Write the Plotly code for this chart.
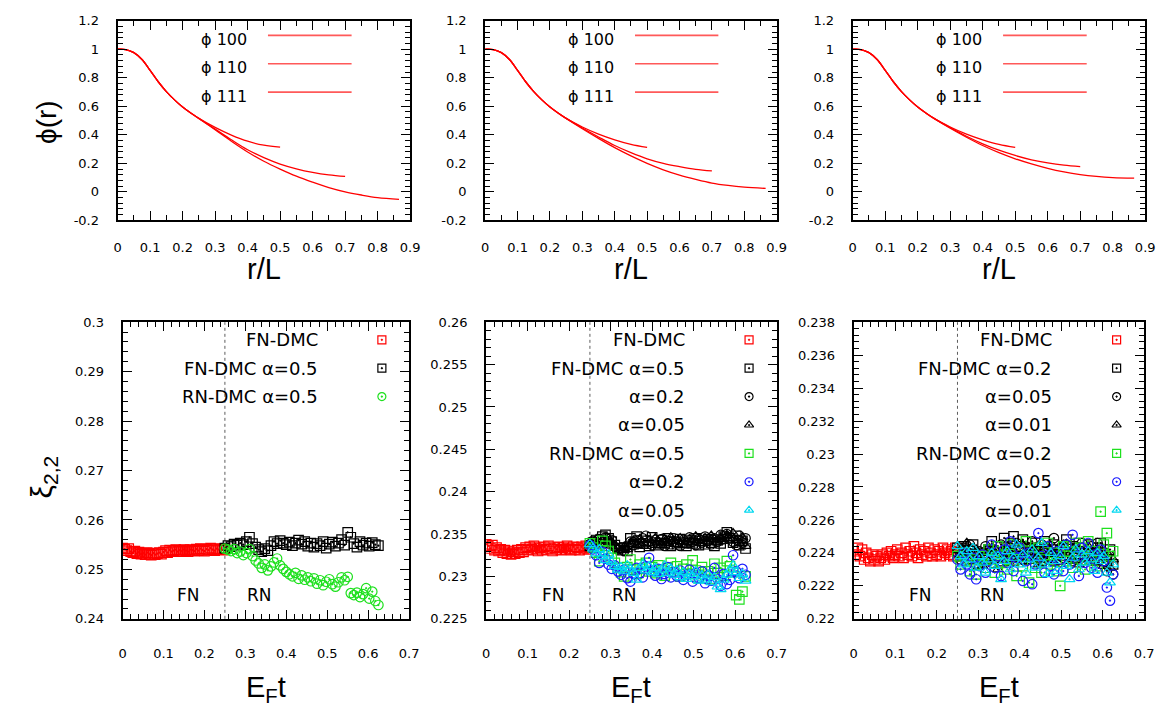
import plotly.graph_objects as go

# ---------------- data: top row, phi(r) ----------------
R100 = [0, 0.025, 0.05, 0.075, 0.1, 0.125, 0.15, 0.175, 0.2, 0.225, 0.25, 0.3, 0.35, 0.4, 0.45, 0.5]
R110 = [0, 0.025, 0.05, 0.075, 0.1, 0.125, 0.15, 0.175, 0.2, 0.225, 0.25, 0.3, 0.35, 0.4, 0.45, 0.5,
        0.55, 0.6, 0.65, 0.7]
R111 = [0, 0.025, 0.05, 0.075, 0.1, 0.125, 0.15, 0.175, 0.2, 0.225, 0.25, 0.3, 0.35, 0.4, 0.45, 0.5,
        0.55, 0.6, 0.65, 0.7, 0.75, 0.8, 0.866]

P1_PHI100 = [1.0, 0.998, 0.976, 0.928, 0.852, 0.772, 0.703, 0.645, 0.595, 0.553, 0.515, 0.452, 0.398, 0.355, 0.327, 0.313]
P1_PHI110 = [1.0, 0.998, 0.976, 0.928, 0.852, 0.772, 0.703, 0.645, 0.595, 0.553, 0.515, 0.44, 0.365, 0.295, 0.24, 0.195,
             0.162, 0.137, 0.119, 0.108]
P1_PHI111 = [1.0, 0.998, 0.976, 0.928, 0.852, 0.772, 0.703, 0.645, 0.595, 0.553, 0.515, 0.435, 0.355, 0.28, 0.215, 0.16,
             0.11, 0.068, 0.03, 0.0, -0.022, -0.04, -0.052]

P2_PHI100 = [1.0, 0.998, 0.976, 0.928, 0.852, 0.772, 0.703, 0.645, 0.595, 0.553, 0.515, 0.455, 0.405, 0.365, 0.333, 0.312]
P2_PHI110 = [1.0, 0.998, 0.976, 0.928, 0.852, 0.772, 0.703, 0.645, 0.595, 0.553, 0.515, 0.448, 0.385, 0.325, 0.275, 0.232,
             0.2, 0.177, 0.158, 0.147]
P2_PHI111 = [1.0, 0.998, 0.976, 0.928, 0.852, 0.772, 0.703, 0.645, 0.595, 0.553, 0.515, 0.443, 0.375, 0.31, 0.252, 0.2,
             0.155, 0.118, 0.088, 0.062, 0.045, 0.033, 0.024]

P3_PHI100 = [1.0, 0.998, 0.976, 0.928, 0.852, 0.772, 0.703, 0.645, 0.595, 0.553, 0.515, 0.455, 0.405, 0.365, 0.333, 0.312]
P3_PHI110 = [1.0, 0.998, 0.976, 0.928, 0.852, 0.772, 0.703, 0.645, 0.595, 0.553, 0.515, 0.45, 0.39, 0.337, 0.292, 0.255,
             0.225, 0.203, 0.187, 0.177]
P3_PHI111 = [1.0, 0.998, 0.976, 0.928, 0.852, 0.772, 0.703, 0.645, 0.595, 0.553, 0.515, 0.446, 0.383, 0.325, 0.275, 0.232,
             0.196, 0.165, 0.14, 0.121, 0.108, 0.1, 0.096]

PHI_LABELS = ["\u03d5 100", "\u03d5 110", "\u03d5 111"]

# ---------------- data: bottom row, xi_{2,2}(E_F t) ----------------
T_FN = [0, 0.005, 0.01, 0.015, 0.02, 0.025, 0.03, 0.035, 0.04, 0.045,
        0.05, 0.055, 0.06, 0.065, 0.07, 0.075, 0.08, 0.085, 0.09, 0.095,
        0.1, 0.105, 0.11, 0.115, 0.12, 0.125, 0.13, 0.135, 0.14, 0.145,
        0.15, 0.155, 0.16, 0.165, 0.17, 0.175, 0.18, 0.185, 0.19, 0.195,
        0.2, 0.205, 0.21, 0.215, 0.22, 0.225, 0.23, 0.235, 0.24, 0.245, 0.25]
T_RN = [0.25, 0.2575, 0.265, 0.2725, 0.28, 0.2875, 0.295, 0.3025, 0.31, 0.3175,
        0.325, 0.3325, 0.34, 0.3475, 0.355, 0.3625, 0.37, 0.3775, 0.385, 0.3925,
        0.4, 0.4075, 0.415, 0.4225, 0.43, 0.4375, 0.445, 0.4525, 0.46, 0.4675,
        0.475, 0.4825, 0.49, 0.4975, 0.505, 0.5125, 0.52, 0.5275, 0.535, 0.5425,
        0.55, 0.5575, 0.565, 0.5725, 0.58, 0.5875, 0.595, 0.6025, 0.61, 0.6175, 0.625]

# panel 1
P1_FN = [0.2543, 0.2541, 0.2538, 0.2542, 0.2536, 0.2534, 0.2537, 0.2532, 0.2535, 0.2531,
         0.2533, 0.2530, 0.2534, 0.2531, 0.2529, 0.2533, 0.2530, 0.2532, 0.2534, 0.2531,
         0.2535, 0.2538, 0.2534, 0.2539, 0.2536, 0.2538, 0.2540, 0.2536, 0.2539, 0.2537,
         0.2540, 0.2538, 0.2536, 0.2540, 0.2539, 0.2537, 0.2541, 0.2538, 0.2542, 0.2539,
         0.2537, 0.2541, 0.2539, 0.2543, 0.2540, 0.2538, 0.2542, 0.2540, 0.2541, 0.2539, 0.2542]
P1_FN05 = [0.2543, 0.2548, 0.2546, 0.2551, 0.2549, 0.2553, 0.2550, 0.2556, 0.2565, 0.2552,
           0.2545, 0.2540, 0.2536, 0.2542, 0.2538, 0.2548, 0.2556, 0.2552, 0.2558, 0.2553,
           0.2550, 0.2555, 0.2548, 0.2553, 0.2559, 0.2551, 0.2556, 0.2547, 0.2553, 0.2545,
           0.2552, 0.2548, 0.2556, 0.2543, 0.2551, 0.2555, 0.2547, 0.2553, 0.2560, 0.2549,
           0.2575, 0.2565, 0.2552, 0.2545, 0.2556, 0.2549, 0.2553, 0.2547, 0.2554, 0.2550, 0.2548]
P1_RN05 = [0.2542, 0.2540, 0.2537, 0.2541, 0.2533, 0.2536, 0.2529, 0.2533, 0.2541, 0.2527,
           0.2518, 0.2512, 0.2503, 0.2510, 0.2498, 0.2506, 0.2514, 0.2522, 0.2508, 0.2501,
           0.2495, 0.2490, 0.2486, 0.2493, 0.2481, 0.2488, 0.2479, 0.2484, 0.2476, 0.2482,
           0.2471, 0.2478, 0.2468, 0.2475, 0.2480, 0.2470, 0.2465, 0.2474, 0.2484, 0.2478,
           0.2485, 0.2452, 0.2448, 0.2453, 0.2444, 0.2450, 0.2462, 0.2441, 0.2455, 0.2436, 0.2428]

# panel 2
P2_FN = [0.2338, 0.2336, 0.2333, 0.2337, 0.2331, 0.2334, 0.2330, 0.2332, 0.2328, 0.2331,
         0.2327, 0.2330, 0.2326, 0.2329, 0.2327, 0.2331, 0.2328, 0.2332, 0.2329, 0.2334,
         0.2331, 0.2335, 0.2332, 0.2336, 0.2333, 0.2330, 0.2334, 0.2331, 0.2335, 0.2332,
         0.2336, 0.2333, 0.2330, 0.2334, 0.2332, 0.2335, 0.2331, 0.2334, 0.2332, 0.2336,
         0.2333, 0.2331, 0.2335, 0.2332, 0.2334, 0.2331, 0.2335, 0.2333, 0.2336, 0.2332, 0.2334]
P2_FN05 = [0.2336, 0.2340, 0.2343, 0.2338, 0.2347, 0.2349, 0.2345, 0.2341, 0.2337, 0.2333,
           0.2331, 0.2334, 0.2330, 0.2345, 0.2338, 0.2347, 0.2335, 0.2339, 0.2342, 0.2336,
           0.2346, 0.2340, 0.2337, 0.2343, 0.2339, 0.2345, 0.2336, 0.2341, 0.2338, 0.2344,
           0.2340, 0.2336, 0.2343, 0.2339, 0.2345, 0.2337, 0.2342, 0.2338, 0.2344, 0.2340,
           0.2336, 0.2343, 0.2339, 0.2347, 0.2352, 0.2345, 0.2340, 0.2348, 0.2337, 0.2342, 0.2333]
P2_FN02 = [0.2338, 0.2342, 0.2336, 0.2344, 0.2340, 0.2346, 0.2339, 0.2343, 0.2335, 0.2332,
           0.2334, 0.2330, 0.2336, 0.2341, 0.2337, 0.2343, 0.2339, 0.2345, 0.2348, 0.2341,
           0.2337, 0.2343, 0.2339, 0.2344, 0.2336, 0.2342, 0.2338, 0.2345, 0.2340, 0.2336,
           0.2343, 0.2339, 0.2346, 0.2341, 0.2337, 0.2344, 0.2340, 0.2347, 0.2342, 0.2338,
           0.2345, 0.2341, 0.2349, 0.2344, 0.2350, 0.2346, 0.2341, 0.2337, 0.2348, 0.2340, 0.2345]
P2_FN005 = [0.2337, 0.2340, 0.2344, 0.2339, 0.2343, 0.2338, 0.2345, 0.2340, 0.2336, 0.2333,
            0.2331, 0.2335, 0.2332, 0.2338, 0.2342, 0.2337, 0.2344, 0.2340, 0.2336, 0.2343,
            0.2339, 0.2345, 0.2341, 0.2337, 0.2344, 0.2340, 0.2346, 0.2342, 0.2338, 0.2345,
            0.2341, 0.2337, 0.2344, 0.2340, 0.2347, 0.2343, 0.2339, 0.2345, 0.2341, 0.2348,
            0.2344, 0.2340, 0.2346, 0.2342, 0.2349, 0.2345, 0.2351, 0.2343, 0.2339, 0.2346, 0.2336]
P2_RN05 = [0.2339, 0.2334, 0.2328, 0.2318, 0.2342, 0.2336, 0.2330, 0.2322, 0.2316, 0.2310,
           0.2305, 0.2300, 0.2311, 0.2320, 0.2308, 0.2303, 0.2314, 0.2309, 0.2316, 0.2306,
           0.2311, 0.2304, 0.2313, 0.2307, 0.2301, 0.2310, 0.2316, 0.2305, 0.2312, 0.2300,
           0.2309, 0.2314, 0.2303, 0.2319, 0.2307, 0.2298, 0.2311, 0.2302, 0.2306, 0.2297,
           0.2315, 0.2304, 0.2310, 0.2301, 0.2318, 0.2312, 0.2305, 0.2278, 0.2273, 0.2282, 0.2300]
P2_RN02 = [0.2337, 0.2332, 0.2325, 0.2316, 0.2329, 0.2321, 0.2314, 0.2309, 0.2313, 0.2306,
           0.2302, 0.2308, 0.2298, 0.2294, 0.2303, 0.2310, 0.2304, 0.2299, 0.2312, 0.2322,
           0.2307, 0.2301, 0.2309, 0.2297, 0.2303, 0.2311, 0.2299, 0.2305, 0.2300, 0.2307,
           0.2296, 0.2302, 0.2308, 0.2294, 0.2304, 0.2298, 0.2306, 0.2292, 0.2301, 0.2295,
           0.2310, 0.2297, 0.2289, 0.2303, 0.2291, 0.2296, 0.2325, 0.2306, 0.2298, 0.2309, 0.2302]
P2_RN005 = [0.2338, 0.2333, 0.2327, 0.2332, 0.2324, 0.2319, 0.2326, 0.2317, 0.2312, 0.2308,
            0.2311, 0.2306, 0.2313, 0.2309, 0.2304, 0.2296, 0.2310, 0.2314, 0.2307, 0.2312,
            0.2305, 0.2310, 0.2303, 0.2308, 0.2313, 0.2304, 0.2309, 0.2302, 0.2307, 0.2299,
            0.2305, 0.2297, 0.2303, 0.2300, 0.2306, 0.2295, 0.2301, 0.2296, 0.2302, 0.2293,
            0.2299, 0.2288, 0.2285, 0.2296, 0.2302, 0.2308, 0.2313, 0.2305, 0.2298, 0.2303, 0.2295]

# panel 3
P3_FN = [0.2241, 0.2239, 0.2243, 0.2238, 0.2242, 0.2236, 0.2240, 0.2237, 0.2235, 0.2239,
         0.2236, 0.2238, 0.2235, 0.2237, 0.2239, 0.2236, 0.2240, 0.2238, 0.2241, 0.2237,
         0.2239, 0.2242, 0.2238, 0.2240, 0.2237, 0.2243, 0.2239, 0.2241, 0.2238, 0.2244,
         0.2240, 0.2237, 0.2242, 0.2239, 0.2241, 0.2238, 0.2243, 0.2240, 0.2238, 0.2242,
         0.2239, 0.2241, 0.2238, 0.2243, 0.2240, 0.2242, 0.2239, 0.2241, 0.2238, 0.2243, 0.2240]
P3_FN02 = [0.2243, 0.2238, 0.2244, 0.2236, 0.2241, 0.2245, 0.2239, 0.2234, 0.2240, 0.2236,
           0.2242, 0.2247, 0.2238, 0.2244, 0.2235, 0.2249, 0.2241, 0.2246, 0.2250, 0.2238,
           0.2244, 0.2248, 0.2236, 0.2243, 0.2239, 0.2246, 0.2241, 0.2235, 0.2247, 0.2242,
           0.2238, 0.2245, 0.2240, 0.2236, 0.2243, 0.2248, 0.2239, 0.2244, 0.2237, 0.2246,
           0.2241, 0.2238, 0.2245, 0.2240, 0.2236, 0.2243, 0.2246, 0.2239, 0.2235, 0.2242, 0.2233]
P3_FN005 = [0.2240, 0.2236, 0.2243, 0.2238, 0.2245, 0.2239, 0.2233, 0.2241, 0.2237, 0.2244,
            0.2238, 0.2234, 0.2242, 0.2237, 0.2245, 0.2240, 0.2235, 0.2243, 0.2238, 0.2246,
            0.2241, 0.2236, 0.2244, 0.2239, 0.2247, 0.2242, 0.2237, 0.2245, 0.2240, 0.2236,
            0.2244, 0.2249, 0.2239, 0.2243, 0.2237, 0.2245, 0.2240, 0.2235, 0.2243, 0.2238,
            0.2246, 0.2241, 0.2236, 0.2244, 0.2239, 0.2246, 0.2240, 0.2235, 0.2229, 0.2238, 0.2227]
P3_FN001 = [0.2244, 0.2239, 0.2242, 0.2246, 0.2240, 0.2235, 0.2242, 0.2237, 0.2232, 0.2240,
            0.2235, 0.2243, 0.2238, 0.2230, 0.2241, 0.2236, 0.2244, 0.2239, 0.2234, 0.2242,
            0.2237, 0.2245, 0.2240, 0.2235, 0.2243, 0.2238, 0.2233, 0.2241, 0.2236, 0.2244,
            0.2239, 0.2234, 0.2242, 0.2237, 0.2245, 0.2240, 0.2235, 0.2243, 0.2238, 0.2233,
            0.2241, 0.2236, 0.2244, 0.2239, 0.2234, 0.2242, 0.2237, 0.2232, 0.2240, 0.2231, 0.2236]
P3_RN02 = [0.2238, 0.2233, 0.2240, 0.2235, 0.2229, 0.2236, 0.2227, 0.2233, 0.2238, 0.2231,
           0.2242, 0.2236, 0.2228, 0.2244, 0.2234, 0.2239, 0.2230, 0.2245, 0.2237, 0.2226,
           0.2242, 0.2232, 0.2247, 0.2222, 0.2238, 0.2231, 0.2243, 0.2228, 0.2236, 0.2246,
           0.2233, 0.2240, 0.2229, 0.2220, 0.2244, 0.2235, 0.2241, 0.2231, 0.2246, 0.2238,
           0.2243, 0.2230, 0.2247, 0.2236, 0.2241, 0.2232, 0.2265, 0.2245, 0.2252, 0.2238, 0.2241]
P3_RN005 = [0.2236, 0.2230, 0.2240, 0.2233, 0.2227, 0.2237, 0.2224, 0.2232, 0.2239, 0.2228,
            0.2235, 0.2245, 0.2231, 0.2238, 0.2226, 0.2242, 0.2234, 0.2247, 0.2229, 0.2237,
            0.2243, 0.2223, 0.2235, 0.2240, 0.2221, 0.2233, 0.2252, 0.2238, 0.2228, 0.2244,
            0.2232, 0.2227, 0.2241, 0.2236, 0.2229, 0.2245, 0.2233, 0.2251, 0.2238, 0.2226,
            0.2243, 0.2234, 0.2246, 0.2231, 0.2239, 0.2228, 0.2242, 0.2235, 0.2219, 0.2211, 0.2227]
P3_RN001 = [0.2244, 0.2238, 0.2233, 0.2241, 0.2236, 0.2243, 0.2231, 0.2238, 0.2234, 0.2228,
            0.2236, 0.2240, 0.2232, 0.2238, 0.2224, 0.2235, 0.2241, 0.2230, 0.2237, 0.2245,
            0.2233, 0.2239, 0.2228, 0.2236, 0.2242, 0.2231, 0.2237, 0.2246, 0.2233, 0.2227,
            0.2240, 0.2235, 0.2229, 0.2238, 0.2244, 0.2232, 0.2224, 0.2237, 0.2242, 0.2230,
            0.2239, 0.2234, 0.2241, 0.2236, 0.2229, 0.2240, 0.2235, 0.2238, 0.2228, 0.2222, 0.2233]

# tick labels
R_TICKS = [0, 0.1, 0.2, 0.3, 0.4, 0.5, 0.6, 0.7, 0.8, 0.9]
R_TICKTEXT = ["0", "0.1", "0.2", "0.3", "0.4", "0.5", "0.6", "0.7", "0.8", "0.9"]
PHI_TICKS = [-0.2, 0, 0.2, 0.4, 0.6, 0.8, 1.0, 1.2]
PHI_TICKTEXT = ["-0.2", "0", "0.2", "0.4", "0.6", "0.8", "1", "1.2"]
T_TICKS = [0, 0.1, 0.2, 0.3, 0.4, 0.5, 0.6, 0.7]
T_TICKTEXT = ["0", "0.1", "0.2", "0.3", "0.4", "0.5", "0.6", "0.7"]
XI1_TICKS = [0.24, 0.25, 0.26, 0.27, 0.28, 0.29, 0.30]
XI1_TICKTEXT = ["0.24", "0.25", "0.26", "0.27", "0.28", "0.29", "0.3"]
XI2_TICKS = [0.225, 0.23, 0.235, 0.24, 0.245, 0.25, 0.255, 0.26]
XI2_TICKTEXT = ["0.225", "0.23", "0.235", "0.24", "0.245", "0.25", "0.255", "0.26"]
XI3_TICKS = [0.22, 0.222, 0.224, 0.226, 0.228, 0.23, 0.232, 0.234, 0.236, 0.238]
XI3_TICKTEXT = ["0.22", "0.222", "0.224", "0.226", "0.228", "0.23", "0.232", "0.234", "0.236", "0.238"]

# ---------------- layout helpers ----------------
W, H = 1172, 711
RED, BLACK, GREEN, BLUE, CYAN = "#ff0000", "#000000", "#1ee01e", "#1a1aff", "#00d8f0"


def px_x(p):
    return p / W


def px_y(p):
    return 1 - p / H


TOP_Y = [px_y(218), px_y(14)]
BOT_Y = [px_y(625), px_y(322)]
X_PIX = [(115, 411), (487, 782), (859, 1155), (120, 410), (488, 782), (860, 1154)]

fig = go.Figure()

TICKFONT = dict(family="DejaVu Sans", size=13, color="black")
TITLEFONT = "Liberation Sans, Arial, sans-serif"


def base_axis(rng, tickvals, ticktext, minor_dtick, standoff):
    return dict(range=rng, showline=True, linecolor="black", linewidth=2, mirror="allticks",
                ticks="inside", ticklen=9, tickwidth=1, tickcolor="black",
                tickmode="array", tickvals=tickvals, ticktext=ticktext,
                minor=dict(tickmode="linear", tick0=0, dtick=minor_dtick, ticks="inside",
                           ticklen=5, tickwidth=1, tickcolor="black", showgrid=False),
                showgrid=False, zeroline=False, tickfont=TICKFONT, ticklabelstandoff=standoff,
                fixedrange=True)


layout_axes = {}
for i in range(6):
    n = "" if i == 0 else str(i + 1)
    dom = [px_x(X_PIX[i][0]), px_x(X_PIX[i][1])]
    if i < 3:
        xa = base_axis([0, 0.9], R_TICKS, R_TICKTEXT, 0.05, 14)
        ya = base_axis([-0.2, 1.2], PHI_TICKS, PHI_TICKTEXT, 0.04, 14)
        ya["domain"] = TOP_Y
    else:
        xa = base_axis([0, 0.7], T_TICKS, T_TICKTEXT, 0.02, 22)
        if i == 3:
            ya = base_axis([0.24, 0.30], XI1_TICKS, XI1_TICKTEXT, 0.002, 14)
        elif i == 4:
            ya = base_axis([0.225, 0.26], XI2_TICKS, XI2_TICKTEXT, 0.001, 14)
        else:
            ya = base_axis([0.22, 0.238], XI3_TICKS, XI3_TICKTEXT, 0.0004, 14)
        ya["domain"] = BOT_Y
    xa["domain"] = dom
    xa["anchor"] = "y" + n
    ya["anchor"] = "x" + n
    layout_axes["xaxis" + n] = xa
    layout_axes["yaxis" + n] = ya

annotations = []
shapes = []

# ---------------- top row: phi(r) ----------------
TOP_SETS = [
    (P1_PHI100, P1_PHI110, P1_PHI111),
    (P2_PHI100, P2_PHI110, P2_PHI111),
    (P3_PHI100, P3_PHI110, P3_PHI111),
]
LEG_ROW_TOP_TEXT = [33, 62, 91]
LEG_ROW_TOP_LINE = [29, 58, 87]
for i, (a, b, c) in enumerate(TOP_SETS):
    n = "" if i == 0 else str(i + 1)
    for rr, yy in ((R100, a), (R110, b), (R111, c)):
        fig.add_trace(go.Scatter(x=rr, y=yy, mode="lines", xaxis="x" + n, yaxis="y" + n,
                                 line=dict(color=RED, width=1.3, shape="spline", smoothing=1.0),
                                 showlegend=False, hoverinfo="skip"))
    for k, lab in enumerate(PHI_LABELS):
        fy_t = 1 - (LEG_ROW_TOP_TEXT[k] - 14) / 204
        fy_l = 1 - (LEG_ROW_TOP_LINE[k] - 14) / 204
        annotations.append(dict(text=lab, xref="x" + n + " domain", yref="y" + n + " domain",
                                x=0.448, y=fy_t, xanchor="right", yanchor="middle", showarrow=False,
                                font=dict(family="DejaVu Sans", size=16, color="black")))
        shapes.append(dict(type="line", xref="x" + n + " domain", yref="y" + n + " domain",
                           x0=0.514, x1=0.80, y0=fy_l, y1=fy_l,
                           line=dict(color="rgba(255,60,60,0.85)", width=1.6)))
    cx = (X_PIX[i][0] + X_PIX[i][1]) / 2
    annotations.append(dict(text="r/L", xref="paper", yref="paper", x=px_x(cx), y=px_y(268),
                            xanchor="center", yanchor="middle", showarrow=False,
                            font=dict(family=TITLEFONT, size=29, color="black")))

# ---------------- bottom row ----------------
SQ, CI, TR = "square-open-dot", "circle-open-dot", "triangle-up-open-dot"
BOT_SETS = [
    [("FN-DMC", T_FN, P1_FN, RED, SQ),
     ("FN-DMC \u03b1=0.5", T_RN, P1_FN05, BLACK, SQ),
     ("RN-DMC \u03b1=0.5", T_RN, P1_RN05, GREEN, CI)],
    [("FN-DMC", T_FN, P2_FN, RED, SQ),
     ("FN-DMC \u03b1=0.5", T_RN, P2_FN05, BLACK, SQ),
     ("\u03b1=0.2", T_RN, P2_FN02, BLACK, CI),
     ("\u03b1=0.05", T_RN, P2_FN005, BLACK, TR),
     ("RN-DMC \u03b1=0.5", T_RN, P2_RN05, GREEN, SQ),
     ("\u03b1=0.2", T_RN, P2_RN02, BLUE, CI),
     ("\u03b1=0.05", T_RN, P2_RN005, CYAN, TR)],
    [("FN-DMC", T_FN, P3_FN, RED, SQ),
     ("FN-DMC \u03b1=0.2", T_RN, P3_FN02, BLACK, SQ),
     ("\u03b1=0.05", T_RN, P3_FN005, BLACK, CI),
     ("\u03b1=0.01", T_RN, P3_FN001, BLACK, TR),
     ("RN-DMC \u03b1=0.2", T_RN, P3_RN02, GREEN, SQ),
     ("\u03b1=0.05", T_RN, P3_RN005, BLUE, CI),
     ("\u03b1=0.01", T_RN, P3_RN001, CYAN, TR)],
]
Y_RANGES = [(0.24, 0.30), (0.225, 0.26), (0.22, 0.238)]
LEG_ROWS = [340, 369, 398, 427, 456, 485, 514]

for j, series in enumerate(BOT_SETS):
    n = str(j + 4)
    y0, y1 = Y_RANGES[j]
    shapes.append(dict(type="line", xref="x" + n, yref="y" + n + " domain", x0=0.25, x1=0.25, y0=0, y1=1,
                       line=dict(color="#333333", width=0.8, dash="3px,3px"), layer="below"))
    for k, (lab, tt, vv, col, sym) in enumerate(series):
        fig.add_trace(go.Scatter(x=tt, y=vv, mode="markers", xaxis="x" + n, yaxis="y" + n,
                                 marker=dict(symbol=sym, size=9.5, color=col, line=dict(color=col, width=1.2)),
                                 showlegend=False, hoverinfo="skip"))
    for k, (lab, tt, vv, col, sym) in enumerate(series):
        fy = 1 - (LEG_ROWS[k] - 322) / 303
        annotations.append(dict(text=lab, xref="x" + n + " domain", yref="y" + n + " domain",
                                x=0.69, y=fy, xanchor="right", yanchor="middle", showarrow=False,
                                font=dict(family="DejaVu Sans", size=18, color="black")))
        # legend key placed at a fixed fraction of the panel
        kx = 0.905 * 0.7
        ky = y0 + fy * (y1 - y0)
        fig.add_trace(go.Scatter(x=[kx], y=[ky], mode="markers", xaxis="x" + n, yaxis="y" + n,
                                 marker=dict(symbol=sym, size=8, color=col, line=dict(color=col, width=1.2)),
                                 showlegend=False, hoverinfo="skip"))
    for txt, fx in (("FN", 0.162 / 0.7), ("RN", 0.334 / 0.7)):
        annotations.append(dict(text=txt, xref="x" + n + " domain", yref="y" + n + " domain",
                                x=fx, y=0.079, xanchor="center", yanchor="middle", showarrow=False,
                                font=dict(family="DejaVu Sans", size=17, color="black")))
    cx = (X_PIX[j + 3][0] + X_PIX[j + 3][1]) / 2
    annotations.append(dict(text="E<sub>F</sub>t", xref="paper", yref="paper", x=px_x(cx), y=px_y(697),
                            xanchor="center", yanchor="middle", showarrow=False,
                            font=dict(family=TITLEFONT, size=29, color="black")))

# y-axis titles
annotations.append(dict(text="\u03d5(r)", xref="paper", yref="paper", x=px_x(43), y=px_y(117),
                        xanchor="center", yanchor="middle", textangle=-90, showarrow=False,
                        font=dict(family=TITLEFONT, size=28, color="black")))
annotations.append(dict(text="\u03be<sub>2,2</sub>", xref="paper", yref="paper", x=px_x(40), y=px_y(480),
                        xanchor="center", yanchor="middle", textangle=-90, showarrow=False,
                        font=dict(family=TITLEFONT, size=30, color="black")))

fig.update_layout(width=W, height=H, margin=dict(l=0, r=0, t=0, b=0),
                  paper_bgcolor="white", plot_bgcolor="white", showlegend=False,
                  annotations=annotations, shapes=shapes, **layout_axes)

fig.write_html("out.html")
